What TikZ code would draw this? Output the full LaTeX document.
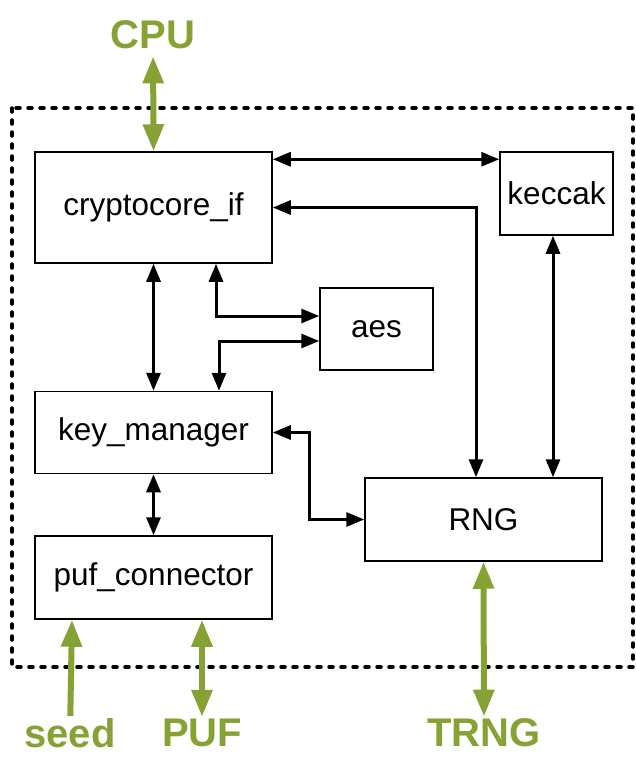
\documentclass[tikz,border=0pt]{standalone}
\usepackage{fontspec}
\setmainfont{Liberation Sans}
\usepackage{xcolor}
\usetikzlibrary{arrows.meta, positioning}

\definecolor{ifgreen}{RGB}{134,161,52}

\begin{document}
\begin{tikzpicture}[x=1pt, y=-1pt,
  box/.style={draw, line width=1.5pt, minimum width=237pt, inner sep=0pt, font=\fontsize{31.5}{36}\selectfont},
  arr/.style={{Triangle[length=18pt,width=14pt]}-{Triangle[length=18pt,width=14pt]}, line width=3pt},
  garr/.style={-{Triangle[length=27pt,width=20pt]}, line width=6pt, ifgreen},
  gdarr/.style={{Triangle[length=27pt,width=20pt]}-{Triangle[length=27pt,width=20pt]}, line width=6pt, ifgreen},
  glabel/.style={text=ifgreen, inner sep=2pt, font=\fontsize{40}{44}\selectfont\bfseries},
  frame/.style={line width=3.5pt, dash pattern=on 4pt off 8pt, line cap=round}
]
\useasboundingbox (0,0) rectangle (636,779);

\node[box, minimum height=111pt] (ci) at (153.5,207.5) {cryptocore\_if};
\node[box, minimum height=82pt, below=127pt of ci] (km) {key\_manager};
\node[box, minimum height=83pt, below=61pt of km] (pc) {puf\_connector};
\node[box, minimum width=113pt, minimum height=83pt] (kc) at (556.5,193.5) {keccak};
\node[box, minimum width=113pt, minimum height=82pt] (aes) at (376.5,329) {aes};
\node[box, minimum height=83pt] (rng) at (483.5,519.5) {RNG};

% outer border
\draw[frame] (12,108) rectangle (633,667);

\node[glabel] (cpu) at (153,35) {CPU};
\node[glabel] (seed) at (70,733) {seed};
\node[glabel] (puf) at (202,733) {PUF};
\node[glabel] (trng) at (484,733) {TRNG};

\draw[arr] ([yshift=-8pt]ci.north east) -- ([yshift=-8pt]kc.north west);
\draw[arr] (ci.east) -| ([xshift=-7.5pt]rng.north);
\draw[arr] ([xshift=-3.5pt]kc.south) -- ([xshift=-3.5pt]kc.south |- rng.north);
\draw[arr] (ci) -- (km);
\draw[arr] ([xshift=62.5pt]ci.south) |- ([yshift=13pt]aes.west);
\draw[arr] ([xshift=65.5pt]km.north) |- ([yshift=-12pt]aes.west);
\draw[arr] (km.east) -- ++(37,0) |- (rng.west);
\draw[arr] (km) -- (pc);

% external signals
\draw[gdarr, shorten <=5pt] (cpu) -- (ci.north);
\draw[garr] (seed) -- ([xshift=-81.5pt]pc.south);
\draw[gdarr] (puf) -- (puf |- pc.south);
\draw[gdarr] (trng) -- (rng.south);
\end{tikzpicture}
\end{document}
